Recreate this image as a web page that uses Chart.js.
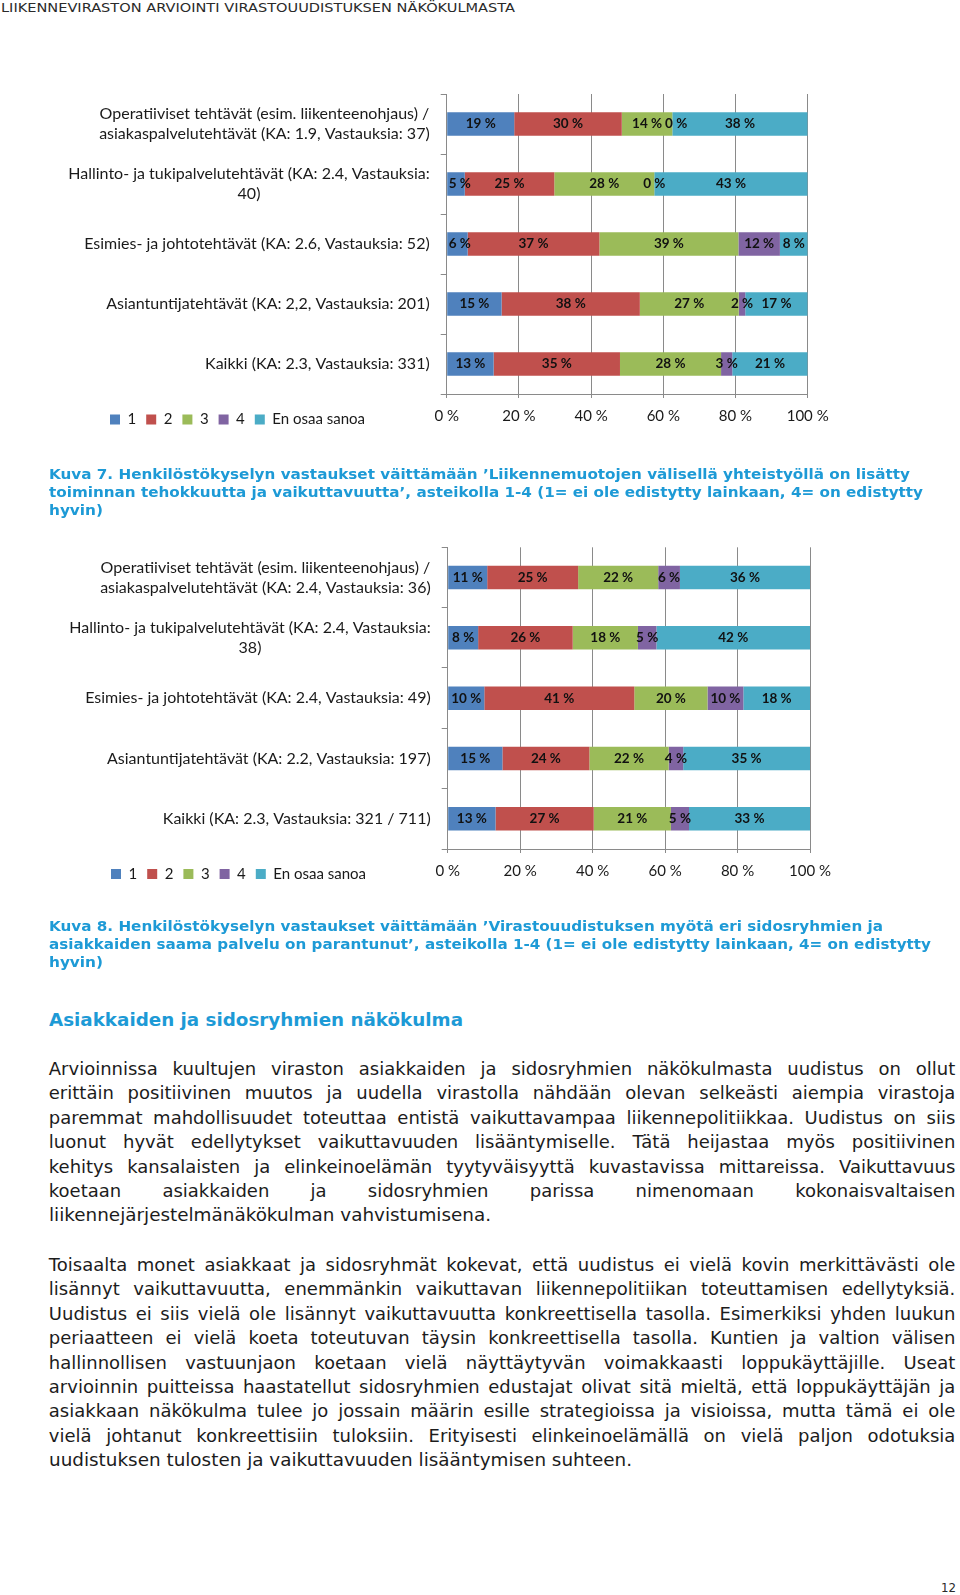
<!DOCTYPE html>
<html>
<head>
<meta charset="utf-8">
<script src="https://cdn.jsdelivr.net/npm/chart.js@4.4.1/dist/chart.umd.min.js"></script>
<style>
html,body{margin:0;padding:0;background:#fff;}
body{width:960px;height:1595px;position:relative;overflow:hidden;}
.t{position:absolute;white-space:nowrap;line-height:24px;height:24px;}
.t span{display:inline-block;transform-origin:0 50%;}
.hdr{font-family:'DejaVu Sans';font-size:13px;color:#2a2a2a;}
.cap{font-family:'DejaVu Sans';font-weight:bold;font-size:14px;color:#1d9ad6;}
.h2{font-family:'DejaVu Sans';font-weight:bold;font-size:18px;color:#1d9ad6;}
.body{font-family:'DejaVu Sans';font-size:18px;color:#1c1c1c;}
.pg{font-family:'DejaVu Sans';font-size:12px;color:#2a2a2a;}
.cbox{position:absolute;}
</style>
</head>
<body>
<div class="cbox" style="left:40px;top:80px;width:800px;height:389px;"><canvas id="c1" width="800" height="389"></canvas></div>
<div class="cbox" style="left:40px;top:533px;width:800px;height:391px;"><canvas id="c2" width="800" height="391"></canvas></div>
<div id="texts"></div>
<script>
// ---------- DATA ----------
const seriesNames = ['1', '2', '3', '4', 'En osaa sanoa'];
const seriesColors = ['#4F81BD', '#C0504D', '#9BBB59', '#8064A2', '#4BACC6'];
const xTickLabels = ['0 %', '20 %', '40 %', '60 %', '80 %', '100 %'];

const chart1Categories = [
  ['Operatiiviset tehtävät (esim. liikenteenohjaus) /', 'asiakaspalvelutehtävät (KA: 1.9, Vastauksia: 37)'],
  ['Hallinto- ja tukipalvelutehtävät (KA: 2.4, Vastauksia:', '40)'],
  ['Esimies- ja johtotehtävät (KA: 2.6, Vastauksia: 52)'],
  ['Asiantuntijatehtävät (KA: 2,2, Vastauksia: 201)'],
  ['Kaikki (KA: 2.3, Vastauksia: 331)']
];
const chart1S1 = [18.7, 5.0, 5.8, 15.2, 13.0];
const chart1S2 = [29.8, 24.8, 36.5, 38.3, 35.0];
const chart1S3 = [14.0, 27.7, 38.5, 27.4, 28.0];
const chart1S4 = [0, 0, 11.5, 1.8, 3.1];
const chart1S5 = [37.5, 42.5, 7.7, 17.3, 20.9];

const chart2Categories = [
  ['Operatiiviset tehtävät (esim. liikenteenohjaus) /', 'asiakaspalvelutehtävät (KA: 2.4, Vastauksia: 36)'],
  ['Hallinto- ja tukipalvelutehtävät (KA: 2.4, Vastauksia:', '38)'],
  ['Esimies- ja johtotehtävät (KA: 2.4, Vastauksia: 49)'],
  ['Asiantuntijatehtävät (KA: 2.2, Vastauksia: 197)'],
  ['Kaikki (KA: 2.3, Vastauksia: 321 / 711)']
];
const chart2S1 = [10.9, 8.4, 10.1, 15.1, 13.2];
const chart2S2 = [25.1, 26.1, 41.4, 24.0, 27.1];
const chart2S3 = [22.1, 18.0, 20.2, 21.9, 21.3];
const chart2S4 = [6.0, 5.1, 9.9, 4.0, 5.0];
const chart2S5 = [35.9, 42.4, 18.4, 35.0, 33.4];

// ---------- PLUGINS ----------
const valueLabels = {
  id: 'valueLabels',
  afterDatasetsDraw(chart) {
    const ctx = chart.ctx;
    const area = chart.chartArea;
    ctx.save();
    ctx.font = 'bold 13.5px Lato';
    ctx.fillStyle = '#111';
    ctx.textAlign = 'center';
    ctx.textBaseline = 'middle';
    const n = chart.data.labels.length;
    for (let i = 0; i < n; i++) {
      let prevRight = area.left + 2;
      chart.data.datasets.forEach((ds, di) => {
        const bar = chart.getDatasetMeta(di).data[i];
        const txt = Math.round(ds.data[i]) + ' %';
        const w = ctx.measureText(txt).width;
        let cx = (bar.x + bar.base) / 2;
        if (cx - w / 2 < prevRight) cx = prevRight + w / 2;
        ctx.fillText(txt, cx, bar.y);
        prevRight = cx + w / 2 + 3;
      });
    }
    ctx.restore();
  }
};
const catLabels = {
  id: 'catLabels',
  afterDraw(chart, args, opts) {
    const ys = chart.scales.y;
    const ctx = chart.ctx;
    ctx.save();
    ctx.font = '16px Lato';
    ctx.fillStyle = '#1a1a1a';
    ctx.textAlign = 'center';
    ctx.textBaseline = 'middle';
    chart.data.labels.forEach((lab, i) => {
      const lines = Array.isArray(lab) ? lab : [lab];
      const w = Math.max(...lines.map(l => ctx.measureText(l).width));
      const cx = ys.right - opts.gap - w / 2;
      const cy = ys.getPixelForTick(i);
      lines.forEach((l, k) => ctx.fillText(l, cx, cy + (k - (lines.length - 1) / 2) * opts.lineHeight));
    });
    ctx.restore();
  }
};
const legendPlace = {
  id: 'legendPlace',
  afterLayout(chart, args, opts) {
    const lg = chart.legend;
    if (!lg) return;
    const h = lg.bottom - lg.top;
    lg.left += opts.dx; lg.right += opts.dx;
    lg.top = opts.top; lg.bottom = opts.top + h;
  }
};

function makeChart(id, categories, series, axisWidth, pad, place) {
  return new Chart(document.getElementById(id), {
    type: 'bar',
    data: {
      labels: categories,
      datasets: series.map((d, i) => ({
        label: seriesNames[i],
        data: d,
        backgroundColor: seriesColors[i],
        borderWidth: 0,
        categoryPercentage: 1,
        barPercentage: 0.39
      }))
    },
    options: {
      indexAxis: 'y',
      responsive: false,
      animation: false,
      layout: { padding: pad },
      scales: {
        x: {
          stacked: true, min: 0, max: 100,
          ticks: { stepSize: 20, padding: 9, color: '#1a1a1a', font: { family: 'Lato', size: 15 },
                   callback: (v, i) => xTickLabels[i] },
          grid: { color: '#8a8a8a', lineWidth: 1, drawTicks: true, tickLength: 4 },
          border: { color: '#8a8a8a' }
        },
        y: {
          stacked: true,
          ticks: { display: false },
          grid: { drawOnChartArea: false, drawTicks: true, tickLength: 6, color: '#8a8a8a' },
          border: { color: '#8a8a8a' },
          afterFit(scale) { scale.width = axisWidth; }
        }
      },
      plugins: {
        legend: {
          position: 'bottom', align: 'start',
          labels: { boxWidth: 10, boxHeight: 10, padding: 10, color: '#1a1a1a', font: { family: 'Lato', size: 15 } }
        },
        tooltip: { enabled: false },
        catLabels: { gap: 17, lineHeight: 20 },
        legendPlace: place
      }
    },
    plugins: [valueLabels, catLabels, legendPlace]
  });
}

makeChart('c1', chart1Categories, [chart1S1, chart1S2, chart1S3, chart1S4, chart1S5],
  406.7, { top: 14, right: 32.3, bottom: 0, left: 0 }, { dx: 60, top: 322 });
makeChart('c2', chart2Categories, [chart2S1, chart2S2, chart2S3, chart2S4, chart2S5],
  407.7, { top: 14.3, right: 29.7, bottom: 0, left: 0 }, { dx: 61, top: 323.5 });

// ---------- PAGE TEXT ----------
const textLines = [
  ['hdr', 'LIIKENNEVIRASTON ARVIOINTI VIRASTOUUDISTUKSEN NÄKÖKULMASTA', 1, 8, 514, 'fit'],
  ['cap', 'Kuva 7. Henkilöstökyselyn vastaukset väittämään ’Liikennemuotojen välisellä yhteistyöllä on lisätty', 48.8, 473.5, 861, 'fit'],
  ['cap', 'toiminnan tehokkuutta ja vaikuttavuutta’, asteikolla 1-4 (1= ei ole edistytty lainkaan, 4= on edistytty', 48.8, 491.8, 874, 'fit'],
  ['cap', 'hyvin)', 48.8, 510, 54, 'fit'],
  ['cap', 'Kuva 8. Henkilöstökyselyn vastaukset väittämään ’Virastouudistuksen myötä eri sidosryhmien ja', 48.8, 925.6, 834, 'fit'],
  ['cap', 'asiakkaiden saama palvelu on parantunut’, asteikolla 1-4 (1= ei ole edistytty lainkaan, 4= on edistytty', 48.8, 943.9, 882, 'fit'],
  ['cap', 'hyvin)', 48.8, 962.2, 54, 'fit'],
  ['h2', 'Asiakkaiden ja sidosryhmien näkökulma', 48.8, 1020, 414, 'fit'],
  ['pg', '12', 941, 1588, 15, 'fit']
];
const para1 = [
  'Arvioinnissa kuultujen viraston asiakkaiden ja sidosryhmien näkökulmasta uudistus on ollut',
  'erittäin positiivinen muutos ja uudella virastolla nähdään olevan selkeästi aiempia virastoja',
  'paremmat mahdollisuudet toteuttaa entistä vaikuttavampaa liikennepolitiikkaa. Uudistus on siis',
  'luonut hyvät edellytykset vaikuttavuuden lisääntymiselle. Tätä heijastaa myös positiivinen',
  'kehitys kansalaisten ja elinkeinoelämän tyytyväisyyttä kuvastavissa mittareissa. Vaikuttavuus',
  'koetaan asiakkaiden ja sidosryhmien parissa nimenomaan kokonaisvaltaisen',
  'liikennejärjestelmänäkökulman vahvistumisena.'
];
const para2 = [
  'Toisaalta monet asiakkaat ja sidosryhmät kokevat, että uudistus ei vielä kovin merkittävästi ole',
  'lisännyt vaikuttavuutta, enemmänkin vaikuttavan liikennepolitiikan toteuttamisen edellytyksiä.',
  'Uudistus ei siis vielä ole lisännyt vaikuttavuutta konkreettisella tasolla. Esimerkiksi yhden luukun',
  'periaatteen ei vielä koeta toteutuvan täysin konkreettisella tasolla. Kuntien ja valtion välisen',
  'hallinnollisen vastuunjaon koetaan vielä näyttäytyvän voimakkaasti loppukäyttäjille. Useat',
  'arvioinnin puitteissa haastatellut sidosryhmien edustajat olivat sitä mieltä, että loppukäyttäjän ja',
  'asiakkaan näkökulma tulee jo jossain määrin esille strategioissa ja visioissa, mutta tämä ei ole',
  'vielä johtanut konkreettisiin tuloksiin. Erityisesti elinkeinoelämällä on vielä paljon odotuksia',
  'uudistuksen tulosten ja vaikuttavuuden lisääntymisen suhteen.'
];
para1.forEach((s, k) => textLines.push(['body', s, 48.8, 1069 + k * 24.4, k === para1.length - 1 ? 442 : 906.5, k === para1.length - 1 ? 'fit' : 'just']));
para2.forEach((s, k) => textLines.push(['body', s, 48.8, 1265 + k * 24.4, k === para2.length - 1 ? 583 : 906.5, k === para2.length - 1 ? 'fit' : 'just']));

const host = document.getElementById('texts');
textLines.forEach(([cls, s, x, cy, w, mode]) => {
  const d = document.createElement('div');
  d.className = 't ' + cls;
  d.style.left = x + 'px';
  d.style.top = (cy - 12) + 'px';
  const sp = document.createElement('span');
  sp.textContent = s;
  d.appendChild(sp);
  host.appendChild(d);
  const nat = sp.getBoundingClientRect().width;
  const spaces = (s.match(/ /g) || []).length;
  if (mode === 'just' && nat <= w && spaces > 0) {
    sp.style.wordSpacing = ((w - nat) / spaces) + 'px';
  } else {
    sp.style.transform = 'scaleX(' + (w / nat) + ')';
  }
});
</script>
</body>
</html>
